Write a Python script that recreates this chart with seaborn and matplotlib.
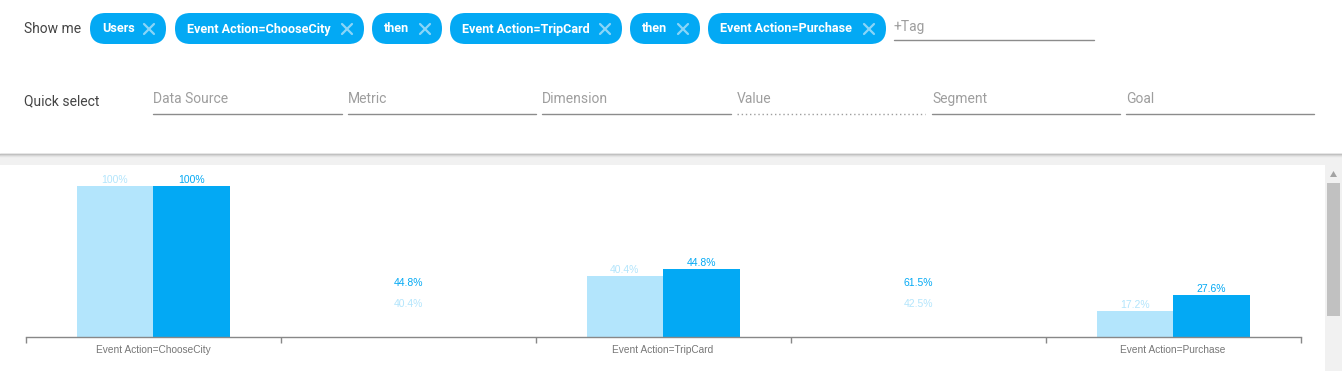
import numpy as np
import pandas as pd
import seaborn as sns
import matplotlib.pyplot as plt
from matplotlib.patches import FancyBboxPatch, Rectangle, Polygon

# ---- funnel data ----
steps = ["Event Action=ChooseCity", "Event Action=TripCard", "Event Action=Purchase"]
periods = ["Previous", "Current"]
previous_rate = [100, 40.4, 17.2]
current_rate = [100, 44.8, 27.6]
# step-to-step conversion shown in the gaps between steps
previous_conv = [40.4, 42.5]
current_conv = [44.8, 61.5]

# ---- query bar text ----
query_tags = ["Users", "Event Action=ChooseCity", "then",
              "Event Action=TripCard", "then", "Event Action=Purchase"]
quick_fields = ["Data Source", "Metric", "Dimension", "Value", "Segment", "Goal"]

LIGHT = "#b3e5fc"
DARK = "#03a9f4"
UI_FONT = ["Roboto", "DejaVu Sans"]
CHART_FONT = ["Liberation Sans", "DejaVu Sans"]

sns.set_style("white")
plt.rcParams["font.family"] = CHART_FONT

df = pd.DataFrame({
    "step": steps * 2,
    "period": [periods[0]] * 3 + [periods[1]] * 3,
    "rate": previous_rate + current_rate,
})
slots = [steps[0], "gap1", steps[1], "gap2", steps[2]]

W, H = 1342, 371
fig = plt.figure(figsize=(W / 100, H / 100), dpi=100)

# ---- page background / UI layer (1 unit = 1 px, y down) ----
bg = fig.add_axes([0, 0, 1, 1], zorder=0)
bg.set_xlim(0, W)
bg.set_ylim(H, 0)
bg.axis("off")

bg.add_patch(Rectangle((0, 153), W, H - 153, color="#f1f1f1", lw=0))
for i, c in enumerate(["#bdbdbd", "#d2d2d2", "#e4e4e4"]):
    bg.plot([0, W], [153.5 + i, 153.5 + i], color=c, lw=1)
bg.add_patch(Rectangle((0, 165), 1325, H - 165, color="white", lw=0))
# scrollbar
bg.add_patch(Rectangle((1327, 183), 13, 133, color="#c1c1c1", lw=0))
bg.add_patch(Polygon([[1330, 177], [1337, 177], [1333.5, 171]], closed=True, color="#a3a3a3", lw=0))

# "Show me" row
bg.text(24, 29, "Show me", family=UI_FONT, fontsize=10, color="#444444", va="center")
chip_pos = [(90, 166), (175, 364), (372, 442), (450, 622), (630, 700), (708, 886)]
for label, (x0, x1) in zip(query_tags, chip_pos):
    bg.add_patch(FancyBboxPatch((x0, 13), x1 - x0, 31,
                                boxstyle="round,pad=0,rounding_size=15.5",
                                color=DARK, lw=0))
    bg.text(x0 + 12, 29, label, family=UI_FONT, fontsize=9.1, weight="bold",
            color="white", va="center")
    cx, cy = x1 - 17, 29
    bg.plot([cx - 5, cx + 5], [cy - 5, cy + 5], color="#8ad5f8", lw=1.6)
    bg.plot([cx - 5, cx + 5], [cy + 5, cy - 5], color="#8ad5f8", lw=1.6)
bg.text(894, 27, "+Tag", family=UI_FONT, fontsize=10, color="#9e9e9e", va="center")
bg.plot([894, 1094], [39.5, 39.5], color="#8c8c8c", lw=1)

# "Quick select" row
bg.text(24, 101, "Quick select", family=UI_FONT, fontsize=10, color="#444444", va="center")
field_pos = [(153, 342), (348, 536), (542, 731), (737, 925), (932, 1120), (1126, 1314)]
for label, (x0, x1) in zip(quick_fields, field_pos):
    bg.text(x0, 99, label, family=UI_FONT, fontsize=10, color="#9e9e9e", va="center")
    if label == "Value":
        bg.plot([x0, x1], [113.5, 113.5], color="#9e9e9e", lw=1, ls=(0, (1, 2)))
    else:
        bg.plot([x0, x1], [113.5, 113.5], color="#8c8c8c", lw=1)

# ---- funnel chart ----
top_px, base_px = 165, 337
ax = fig.add_axes([25.5 / W, (H - base_px) / H, 1275 / W, (base_px - top_px) / H], zorder=2)
ax.patch.set_alpha(0)
sns.barplot(data=df, x="step", y="rate", hue="period", order=slots,
            hue_order=periods, palette=[LIGHT, DARK], saturation=1,
            width=0.6, legend=False, linewidth=0, edgecolor="none", ax=ax)
ax.set_xlim(-0.5, 4.5)
ax.set_ylim(0, 100 * (base_px - top_px) / 151)

for cont, col in zip(ax.containers, [LIGHT, DARK]):
    ax.bar_label(cont, labels=[f"{b.get_height():g}%" for b in cont],
                 color=col, fontsize=7.5, padding=1)

for gi, (pv, cv) in enumerate(zip(previous_conv, current_conv)):
    xg = 1 + 2 * gi
    ax.text(xg, 0.314, f"{cv:g}%", transform=ax.get_xaxis_transform(),
            ha="center", va="center", fontsize=7.5, color=DARK)
    ax.text(xg, 0.192, f"{pv:g}%", transform=ax.get_xaxis_transform(),
            ha="center", va="center", fontsize=7.5, color=LIGHT)

ax.set_xticks(range(5))
ax.set_xticklabels([steps[0], "", steps[1], "", steps[2]])
ax.set_xticks(np.arange(-0.5, 5, 1), minor=True)
ax.tick_params(axis="x", which="major", length=0, pad=5.5, labelsize=7.3, labelcolor="#777777")
ax.tick_params(axis="x", which="minor", length=4, width=1, color="#888888", direction="out", bottom=True)
ax.set_yticks([])
ax.set_xlabel("")
ax.set_ylabel("")
for s in ["top", "left", "right"]:
    ax.spines[s].set_visible(False)
ax.spines["bottom"].set_color("#888888")
ax.spines["bottom"].set_linewidth(1)

fig.savefig("out.png", dpi=100)
plt.close(fig)
